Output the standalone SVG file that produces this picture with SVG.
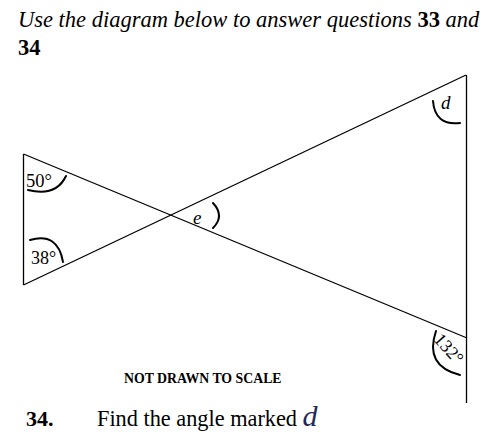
<svg xmlns="http://www.w3.org/2000/svg" width="500" height="444" viewBox="0 0 500 444">
<style>
.t{font-family:"Liberation Serif","Times New Roman",serif;fill:#000}
.ln{stroke:#000;stroke-width:1.3;fill:none}
.arc{stroke:#000;stroke-width:2;fill:none;stroke-linecap:round}
</style>
<rect width="500" height="444" fill="#fff"/>
<g id="header">
<text class="t" x="18" y="27" font-size="22.5"><tspan font-style="italic">Use the diagram below to answer questions </tspan><tspan font-weight="bold">33</tspan><tspan font-style="italic"> and</tspan></text>
<text class="t" x="18" y="55" font-size="22.5" font-weight="bold">34</text>
</g>
<g id="connectors">
<line class="ln" x1="23.5" y1="154" x2="23.5" y2="285"/>
<line class="ln" x1="23.5" y1="154" x2="467" y2="338"/>
<line class="ln" x1="23.5" y1="285" x2="466" y2="75"/>
<line class="ln" x1="466.5" y1="75" x2="466.5" y2="403"/>
</g>
<g id="angle-50">
<path class="arc" d="M28,190 Q56,197 66,176"/>
<text class="t" x="26" y="187" font-size="18.5">50°</text>
</g>
<g id="angle-38">
<path class="arc" d="M30,240 Q58,232 63,262"/>
<text class="t" x="31" y="264" font-size="18">38°</text>
</g>
<g id="angle-e">
<path class="arc" d="M213,203 Q225,216 213,228" stroke-width="1.6"/>
<text class="t" x="193" y="224" font-size="19" font-style="italic">e</text>
</g>
<g id="angle-d">
<path class="arc" d="M433,101 Q435,126 460,123" stroke-width="1.8"/>
<text class="t" x="441" y="109" font-size="19" font-style="italic">d</text>
</g>
<g id="angle-132">
<path class="arc" d="M436,331 Q424,366 460,375" stroke-width="2.2"/>
<text class="t" x="0" y="0" font-size="18" transform="translate(433,340) rotate(48)">132°</text>
</g>
<g id="footer">
<text class="t" x="124" y="383" font-size="13.8" font-weight="bold">NOT DRAWN TO SCALE</text>
<text class="t" x="26" y="426" font-size="22" font-weight="bold">34.</text>
<text class="t" x="97" y="426" font-size="22.3">Find the angle marked <tspan font-style="italic" font-size="30" fill="#1f2a5a">d</tspan></text>
</g>
</svg>
